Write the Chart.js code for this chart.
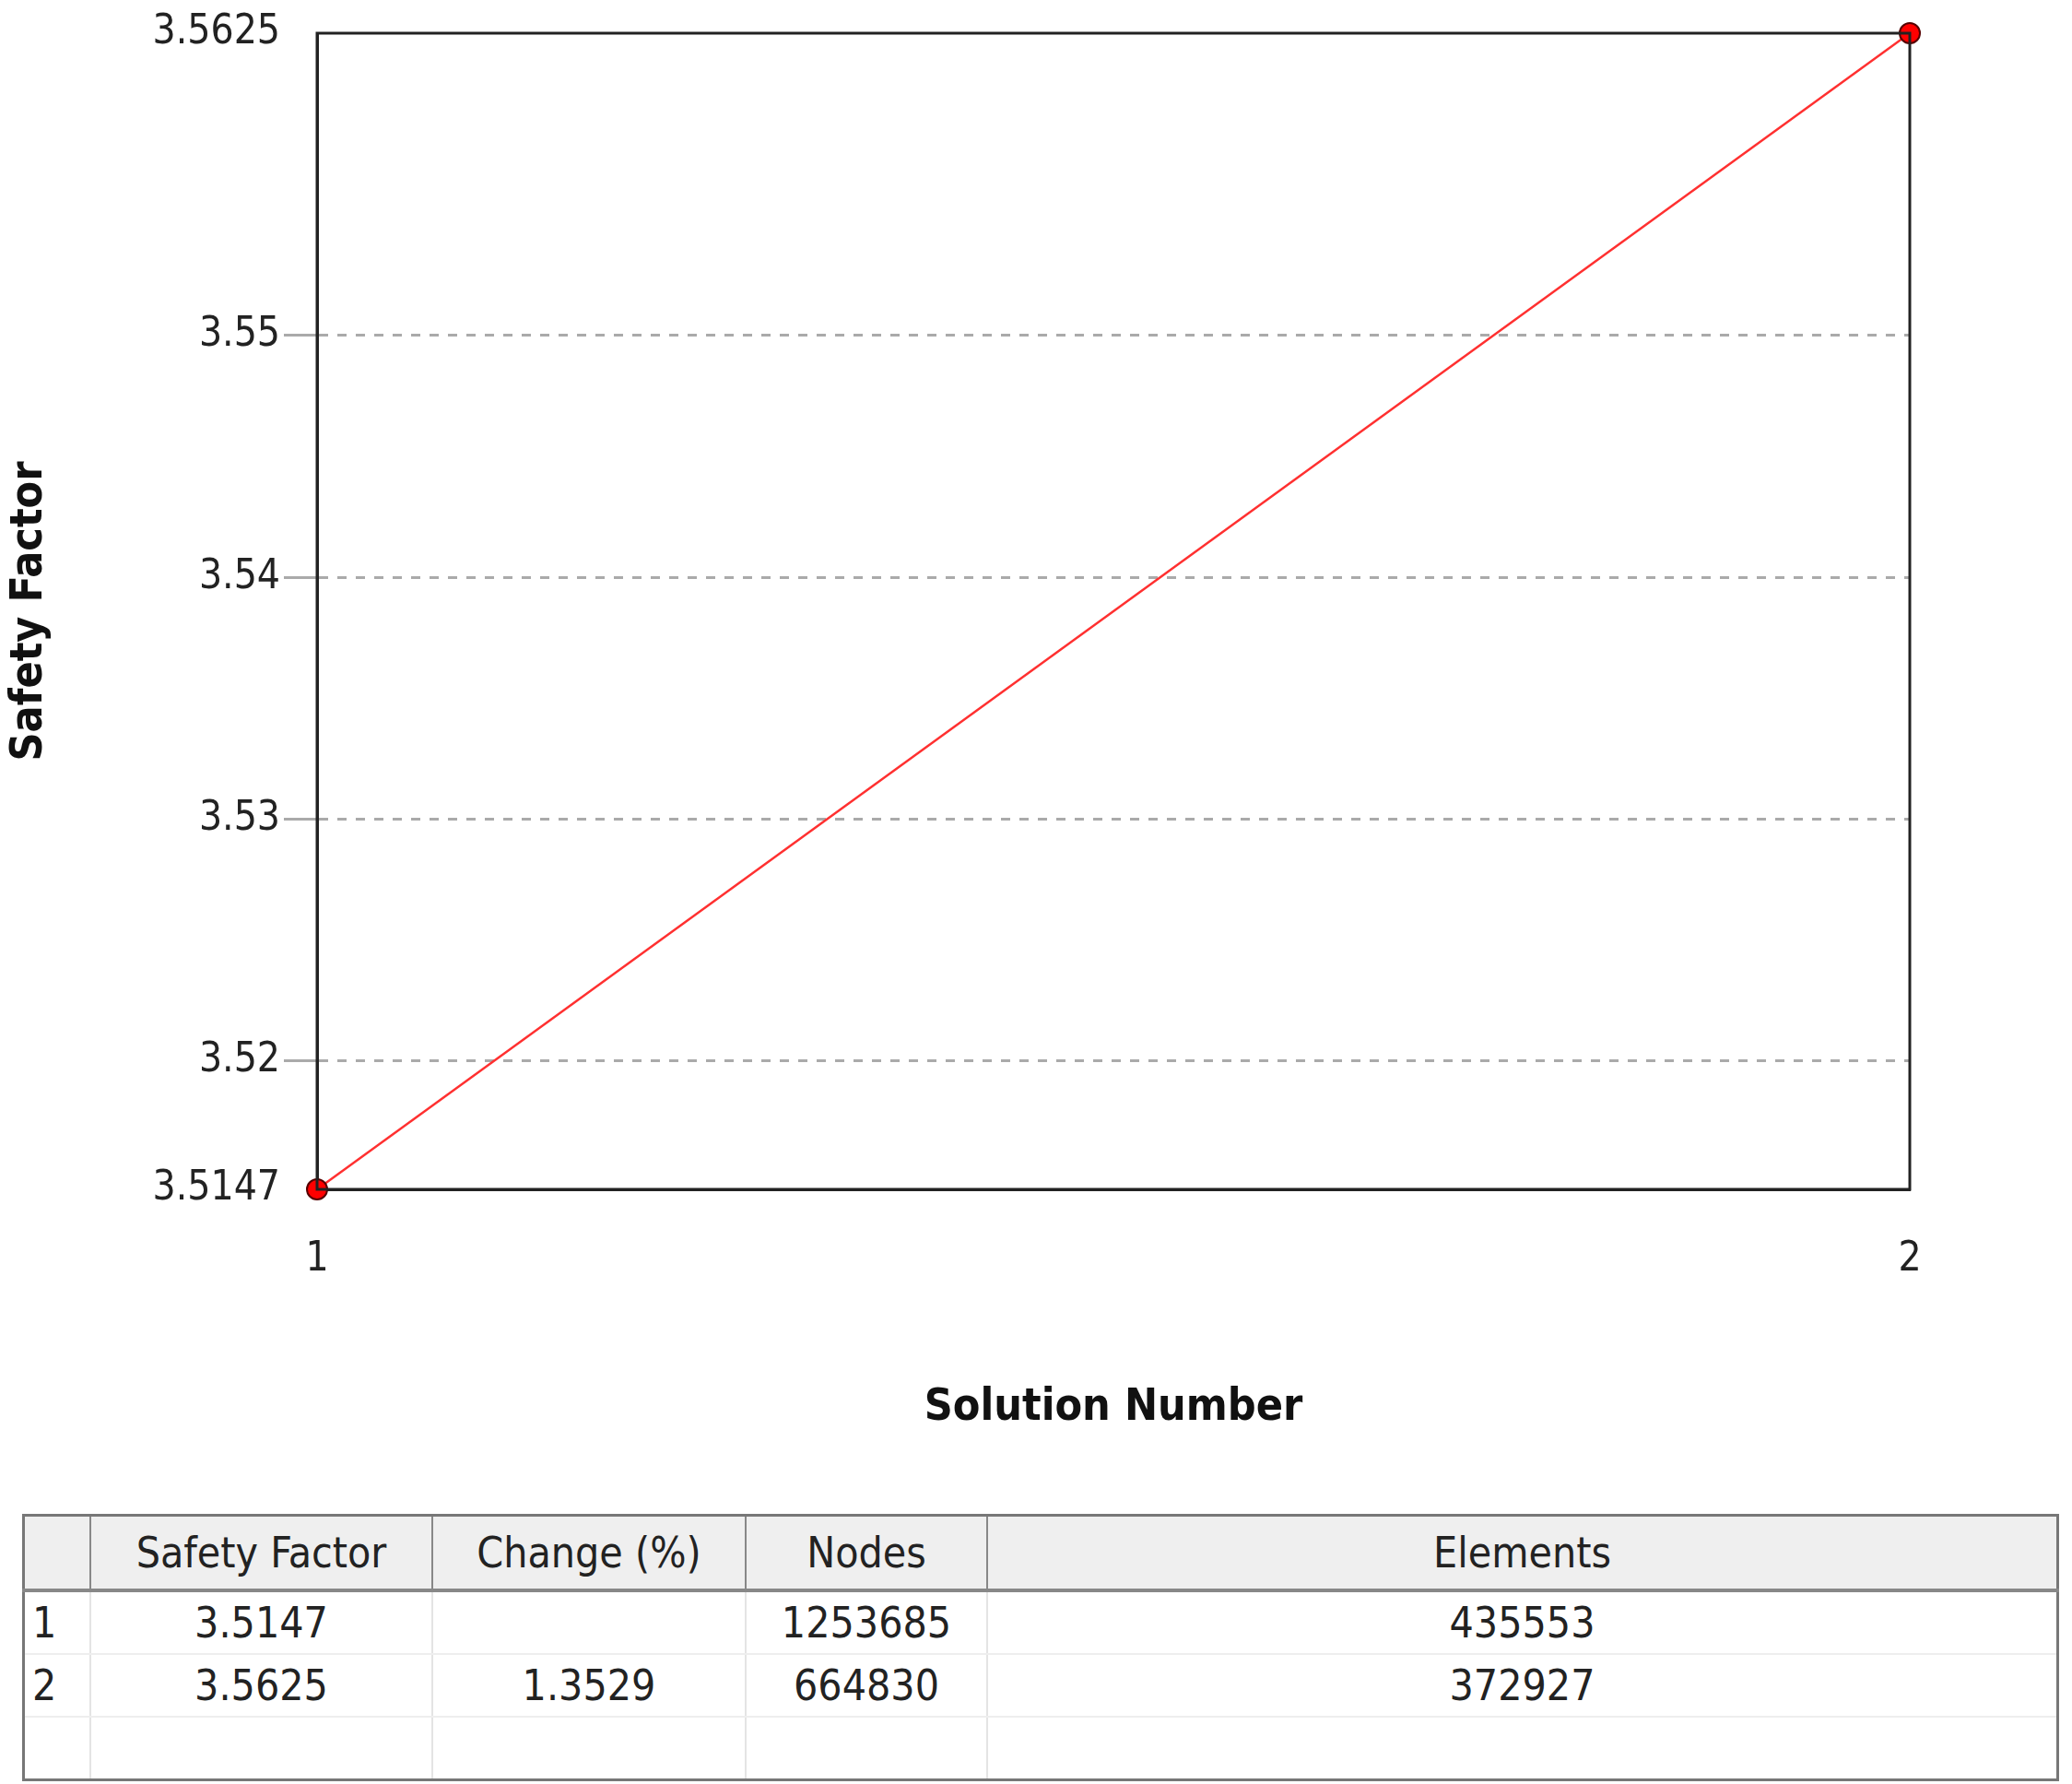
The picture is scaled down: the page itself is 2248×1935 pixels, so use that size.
<!DOCTYPE html>
<html>
<head>
<meta charset="utf-8">
<script src="https://cdn.jsdelivr.net/npm/chart.js@4.4.0/dist/chart.umd.min.js"></script>
<style>
  body { margin: 0; background: #fff; width: 2248px; height: 1935px; position: relative; font-family: "DejaVu Sans Condensed", "DejaVu Sans", sans-serif; }
  #wrap { position: absolute; left: 0; top: 0; width: 2248px; height: 1560px; }
  table { position: absolute; left: 24px; top: 1642px; width: 2210px; border-collapse: collapse; font-size: 46px; color: #222; border: 3px solid #777; }
  th { background: #efefef; font-weight: normal; height: 76px; border: 2px solid #888; border-bottom: 4px solid #888; }
  td { height: 64px; text-align: center; border-left: 2px solid #e4e4e4; border-bottom: 2px solid #eee; }
  td.idx { text-align: left; padding-left: 8px; }
</style>
</head>
<body>
<div id="wrap"><canvas id="c" width="2248" height="1560"></canvas></div>
<table>
  <tr><th style="width:68px"></th><th style="width:367px">Safety Factor</th><th style="width:336px">Change (%)</th><th style="width:258px">Nodes</th><th>Elements</th></tr>
  <tr><td class="idx">1</td><td>3.5147</td><td></td><td>1253685</td><td>435553</td></tr>
  <tr><td class="idx">2</td><td>3.5625</td><td>1.3529</td><td>664830</td><td>372927</td></tr>
  <tr><td class="idx"></td><td></td><td></td><td></td><td></td></tr>
</table>
<script>
const solutions = [1, 2];
const safetyFactor = [3.5147, 3.5625];
const yTicks = [3.5147, 3.52, 3.53, 3.54, 3.55, 3.5625];
const xTicks = [1, 2];

const boxPlugin = {
  id: 'box',
  afterDraw(chart) {
    const { ctx, chartArea: a } = chart;
    ctx.save();
    ctx.strokeStyle = '#222';
    ctx.lineWidth = 3;
    ctx.strokeRect(a.left, a.top, a.right - a.left, a.bottom - a.top);
    ctx.restore();
  }
};

new Chart(document.getElementById('c'), {
  type: 'line',
  data: {
    datasets: [{
      data: solutions.map((s, i) => ({ x: s, y: safetyFactor[i] })),
      borderColor: '#ff3030',
      borderWidth: 2.5,
      pointBackgroundColor: '#ff0000',
      pointBorderColor: '#550000',
      pointBorderWidth: 2,
      pointRadius: 11,
      clip: false
    }]
  },
  plugins: [boxPlugin],
  options: {
    responsive: false,
    animation: false,
    devicePixelRatio: 1,
    layout: { padding: { top: 36, right: 176, left: 0, bottom: 0 } },
    plugins: { legend: { display: false }, tooltip: { enabled: false } },
    scales: {
      x: {
        type: 'linear', min: 1, max: 2,
        afterBuildTicks(s) { s.ticks = xTicks.map(v => ({ value: v })); },
        afterFit(s) { s.height = 270; },
        grid: { display: false, drawTicks: false },
        border: { color: '#222', width: 3 },
        ticks: { color: '#222', font: { size: 44, family: 'DejaVu Sans Condensed' }, padding: 50 },
        title: { display: true, text: 'Solution Number', color: '#111', font: { size: 48, weight: 'bold', family: 'DejaVu Sans Condensed' }, padding: { top: 50 } }
      },
      y: {
        min: 3.5147, max: 3.5625,
        afterBuildTicks(s) { s.ticks = yTicks.map(v => ({ value: v })); },
        afterFit(s) { s.width = 344; },
        grid: {
          color: ctx => (ctx.tick && (ctx.tick.value === 3.5147 || ctx.tick.value === 3.5625)) ? 'rgba(0,0,0,0)' : '#aaa',
          lineWidth: 3, tickLength: 36,
          drawTicks: true
        },
        border: { color: '#222', width: 3, dash: [10, 10] },
        ticks: {
          color: '#222', font: { size: 44, family: 'DejaVu Sans Condensed' }, padding: 4,
          callback: v => String(v)
        },
        title: { display: true, text: 'Safety Factor', color: '#111', font: { size: 48, weight: 'bold', family: 'DejaVu Sans Condensed' }, padding: { bottom: 10 } }
      }
    }
  }
});
</script>
</body>
</html>
